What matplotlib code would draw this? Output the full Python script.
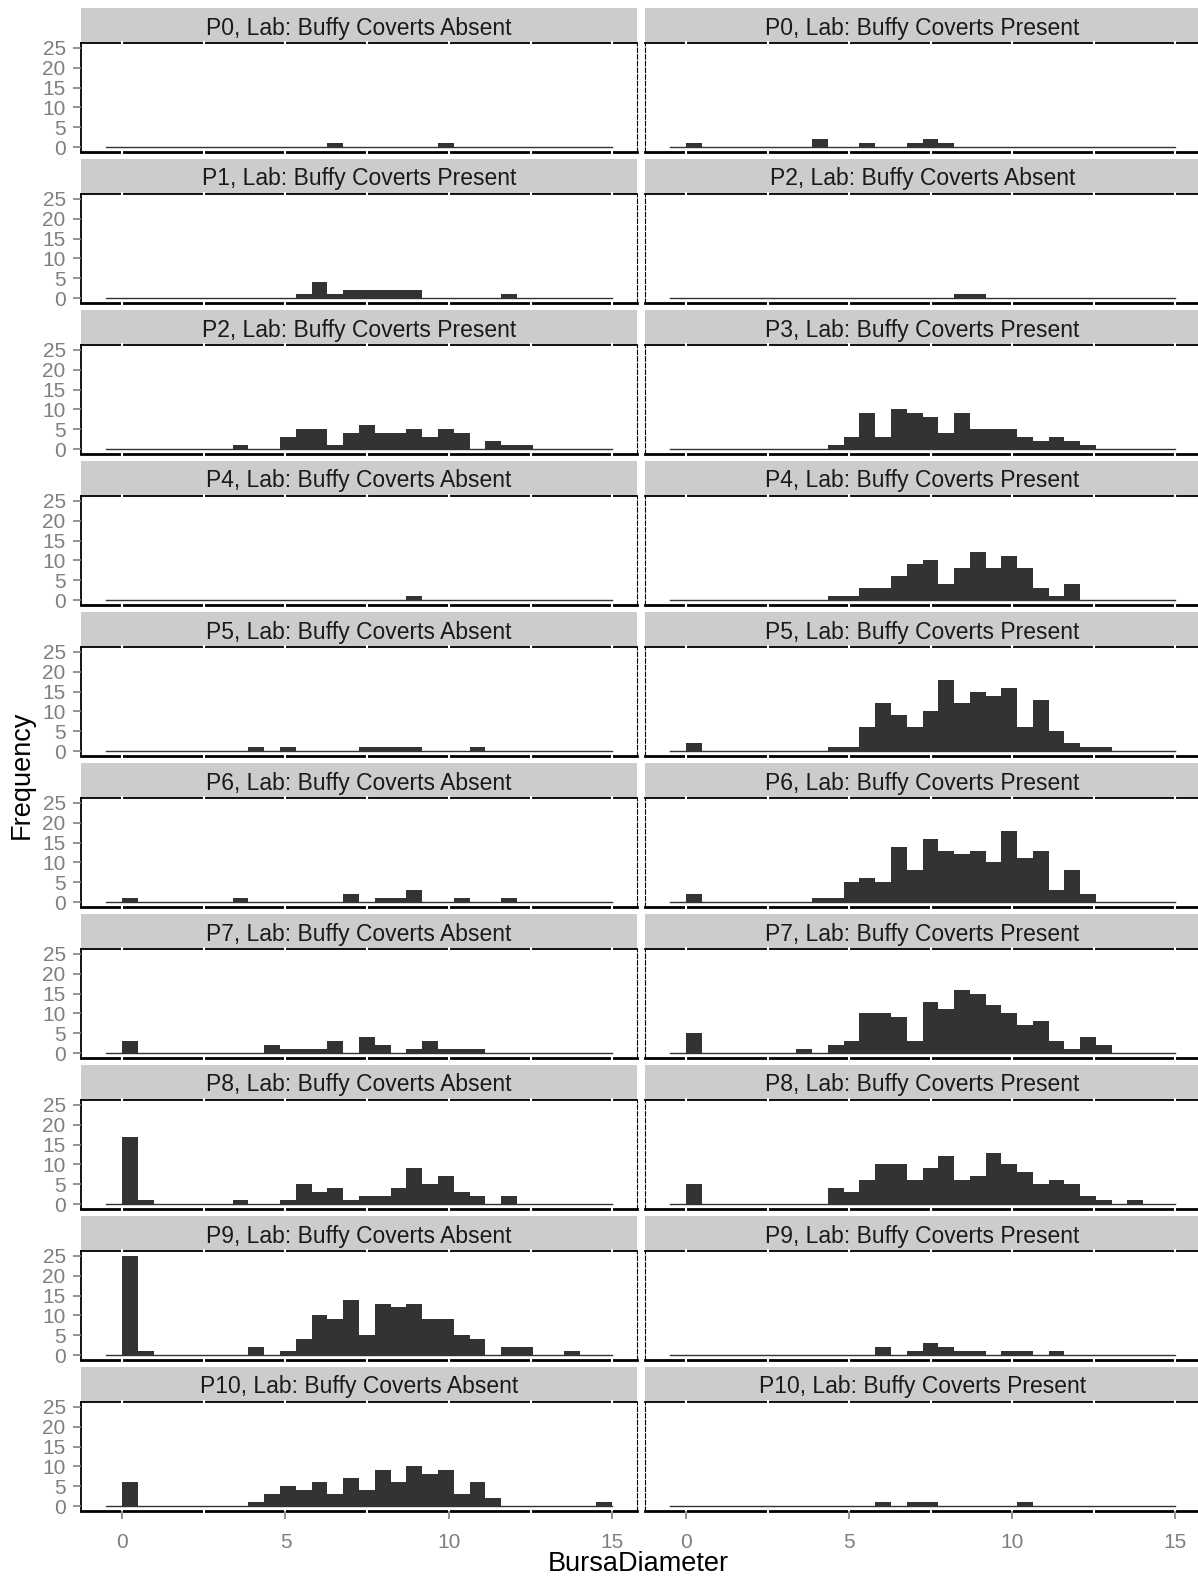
import numpy as np
import matplotlib
matplotlib.use("Agg")
import matplotlib.pyplot as plt

plt.rcParams['font.family'] = ['Liberation Sans', 'DejaVu Sans']

# histogram bins: 30 bins over 0..14.5, plus the padded bin ggplot adds at each end
bin_width = 14.5 / 30
y_ticks = [0, 5, 10, 15, 20, 25]
x_ticks = [0, 5, 10, 15]

# counts per bin (bin 0 starts at 0), one list per facet
p0_absent = [0,0,0,0,0,0,0,0,0,0, 0,0,0,1,0,0,0,0,0,0, 1,0,0,0,0,0,0,0,0,0,0]
p0_present = [1,0,0,0,0,0,0,0,2,0, 0,1,0,0,1,2,1,0,0,0, 0,0,0,0,0,0,0,0,0,0,0]
p1_present = [0,0,0,0,0,0,0,0,0,0, 0,1,4,1,2,2,2,2,2,0, 0,0,0,0,1,0,0,0,0,0,0]
p2_absent = [0,0,0,0,0,0,0,0,0,0, 0,0,0,0,0,0,0,1,1,0, 0,0,0,0,0,0,0,0,0,0,0]
p2_present = [0,0,0,0,0,0,0,1,0,0, 3,5,5,1,4,6,4,4,5,3, 5,4,0,2,1,1,0,0,0,0,0]
p3_present = [0,0,0,0,0,0,0,0,0,1, 3,9,3,10,9,8,4,9,5,5, 5,3,2,3,2,1,0,0,0,0,0]
p4_absent = [0,0,0,0,0,0,0,0,0,0, 0,0,0,0,0,0,0,0,1,0, 0,0,0,0,0,0,0,0,0,0,0]
p4_present = [0,0,0,0,0,0,0,0,0,1, 1,3,3,6,9,10,4,8,12,8, 11,8,3,1,4,0,0,0,0,0,0]
p5_absent = [0,0,0,0,0,0,0,0,1,0, 1,0,0,0,0,1,1,1,1,0, 0,0,1,0,0,0,0,0,0,0,0]
p5_present = [2,0,0,0,0,0,0,0,0,1, 1,6,12,9,6,10,18,12,15,14, 16,6,13,5,2,1,1,0,0,0,0]
p6_absent = [1,0,0,0,0,0,0,1,0,0, 0,0,0,0,2,0,1,1,3,0, 0,1,0,0,1,0,0,0,0,0,0]
p6_present = [2,0,0,0,0,0,0,0,1,1, 5,6,5,14,8,16,13,12,13,10, 18,11,13,3,8,2,0,0,0,0,0]
p7_absent = [3,0,0,0,0,0,0,0,0,2, 1,1,1,3,0,4,2,0,1,3, 1,1,1,0,0,0,0,0,0,0,0]
p7_present = [5,0,0,0,0,0,0,1,0,2, 3,10,10,9,3,13,11,16,15,12, 10,7,8,3,1,4,2,0,0,0,0]
p8_absent = [17,1,0,0,0,0,0,1,0,0, 1,5,3,4,1,2,2,4,9,5, 7,3,2,0,2,0,0,0,0,0,0]
p8_present = [5,0,0,0,0,0,0,0,0,4, 3,6,10,10,6,9,12,6,7,13, 10,8,5,6,5,2,1,0,1,0,0]
p9_absent = [25,1,0,0,0,0,0,0,2,0, 1,4,10,9,14,5,13,12,13,9, 9,5,4,0,2,2,0,0,1,0,0]
p9_present = [0,0,0,0,0,0,0,0,0,0, 0,0,2,0,1,3,2,1,1,0, 1,1,0,1,0,0,0,0,0,0,0]
p10_absent = [6,0,0,0,0,0,0,0,1,3, 5,4,6,3,7,4,9,6,10,8, 9,3,6,2,0,0,0,0,0,0,1]
p10_present = [0,0,0,0,0,0,0,0,0,0, 0,0,1,0,1,1,0,0,0,0, 0,1,0,0,0,0,0,0,0,0,0]

titles = [
    "P0, Lab: Buffy Coverts Absent", "P0, Lab: Buffy Coverts Present",
    "P1, Lab: Buffy Coverts Present", "P2, Lab: Buffy Coverts Absent",
    "P2, Lab: Buffy Coverts Present", "P3, Lab: Buffy Coverts Present",
    "P4, Lab: Buffy Coverts Absent", "P4, Lab: Buffy Coverts Present",
    "P5, Lab: Buffy Coverts Absent", "P5, Lab: Buffy Coverts Present",
    "P6, Lab: Buffy Coverts Absent", "P6, Lab: Buffy Coverts Present",
    "P7, Lab: Buffy Coverts Absent", "P7, Lab: Buffy Coverts Present",
    "P8, Lab: Buffy Coverts Absent", "P8, Lab: Buffy Coverts Present",
    "P9, Lab: Buffy Coverts Absent", "P9, Lab: Buffy Coverts Present",
    "P10, Lab: Buffy Coverts Absent", "P10, Lab: Buffy Coverts Present",
]
counts = [p0_absent, p0_present, p1_present, p2_absent, p2_present, p3_present,
          p4_absent, p4_present, p5_absent, p5_present, p6_absent, p6_present,
          p7_absent, p7_present, p8_absent, p8_present, p9_absent, p9_present,
          p10_absent, p10_present]

W, H = 1198, 1579
fig = plt.figure(figsize=(W / 100, H / 100), dpi=100)

cols = [(81, 637), (645, 1200)]
n_rows = len(titles) // 2
left_edges = np.arange(31) * bin_width
x_lo, x_hi = -bin_width, 31 * bin_width
x_pad = 0.05 * (x_hi - x_lo)
grey = '#7f7f7f'
bar_col = '#333333'

for k, (title, c) in enumerate(zip(titles, counts)):
    row, col = divmod(k, 2)
    x0, x1 = cols[col]
    s_top = 8 + 151 * row
    s_bot = 43 + 151 * row
    p_bot = 152 + 151 * row

    # strip
    sax = fig.add_axes([x0 / W, 1 - s_bot / H, (x1 - x0) / W, (s_bot - s_top) / H])
    sax.set_facecolor('#cccccc')
    sax.set_xticks([])
    sax.set_yticks([])
    for sp in sax.spines.values():
        sp.set_visible(False)
    sax.text(0.5, 0.5, title, ha='center', va='center_baseline', fontsize=16.5, color='#1a1a1a')

    # panel
    ax = fig.add_axes([x0 / W, 1 - p_bot / H, (x1 - x0) / W, (p_bot - s_bot) / H])
    ax.bar(left_edges, c, width=bin_width, align='edge', color=bar_col, linewidth=0, zorder=2)
    ax.plot([x_lo, x_hi], [0, 0], color=bar_col, lw=1, zorder=2)
    ax.set_xlim(x_lo - x_pad, x_hi + x_pad)
    ax.set_ylim(-1.25, 26.25)

    ax.spines['top'].set_linewidth(1.3)
    ax.spines['bottom'].set_linewidth(2.0)
    if col == 0:
        ax.spines['left'].set_linewidth(1.3)
    else:
        ax.spines['left'].set_linewidth(0.8)
        ax.spines['left'].set_linestyle((0, (4, 2)))
    ax.spines['right'].set_linewidth(0.8)
    ax.spines['right'].set_linestyle((0, (4, 2)))
    for sp in ax.spines.values():
        sp.set_zorder(0.5)
    # white grid lines show through the borders
    ax.vlines(np.arange(0, 15.1, 2.5), -1.9, 26.7, colors='white', lw=1.5,
              zorder=1, clip_on=False)

    ax.set_yticks(y_ticks)
    ax.set_xticks(x_ticks)
    ax.tick_params(axis='both', length=6, width=1.2, color=grey, labelcolor=grey, pad=3)
    if col == 0:
        ax.tick_params(axis='y', labelsize=15, pad=5)
    else:
        ax.tick_params(axis='y', left=False, labelleft=False)
    if row == n_rows - 1:
        ax.tick_params(axis='x', labelsize=15, pad=10)
    else:
        ax.tick_params(axis='x', bottom=False, labelbottom=False)

fig.text(22 / W, 1 - 775 / H, 'Frequency', rotation=90, ha='center', va='center', fontsize=19.5)
fig.text(638 / W, 1 - 1564 / H, 'BursaDiameter', ha='center', va='center', fontsize=19.5)

plt.savefig('out.png', dpi=100)
